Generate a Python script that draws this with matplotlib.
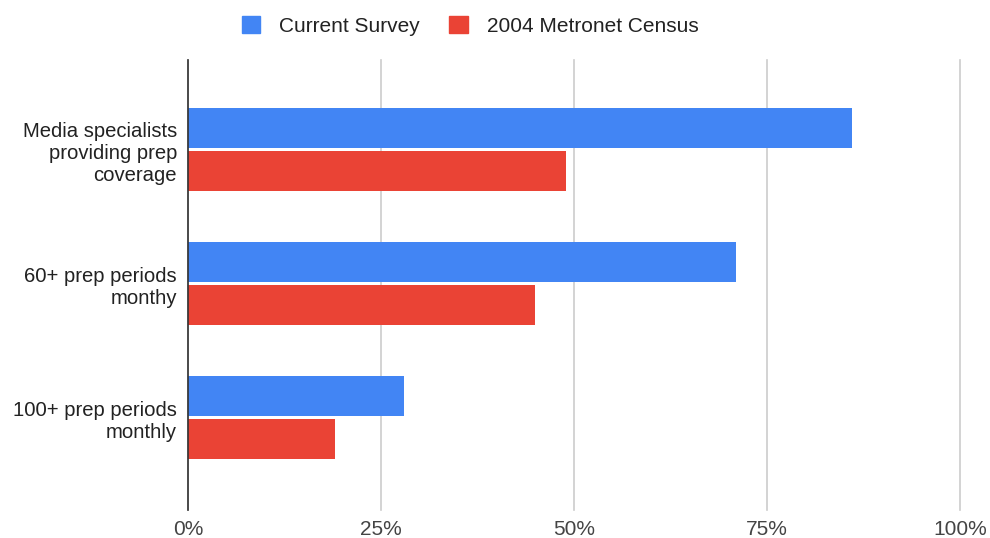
import matplotlib.pyplot as plt
import numpy as np
from matplotlib.patches import Patch
from matplotlib.ticker import FuncFormatter

plt.rcParams['font.family'] = ['Liberation Sans', 'DejaVu Sans']

categories = ["Media specialists\nproviding prep\ncoverage",
              "60+ prep periods\nmonthy",
              "100+ prep periods\nmonthly"]
current_survey = [86, 71, 28]
metronet_2004 = [49, 45, 19]
series_names = ["Current Survey", "2004 Metronet Census"]
colors = ["#4285F4", "#EA4335"]

fig = plt.figure(figsize=(9.9, 5.38), dpi=100)
ax = fig.add_axes([188 / 990, 1 - 510 / 538, 772 / 990, 450 / 538])

y = np.arange(len(categories))
h = 0.2985
off = 0.1605
ax.barh(y - off, current_survey, height=h, color=colors[0], zorder=3)
ax.barh(y + off, metronet_2004, height=h, color=colors[1], zorder=3)

ax.set_xlim(0, 100)
ax.set_ylim(2.69, -0.668)
ax.set_xticks([0, 25, 50, 75, 100])
ax.xaxis.set_major_formatter(FuncFormatter(lambda v, p: f"{v:.0f}%"))
ax.set_yticks(y)
ax.set_yticklabels(categories, fontsize=14.6, color="#222222", linespacing=1.2)
ax.tick_params(axis='x', labelsize=15, colors="#444444", length=0, pad=7)
ax.tick_params(axis='y', length=0, pad=8)
ax.xaxis.grid(True, color="#cccccc", linewidth=1.2, zorder=0)
for gl in ax.get_xgridlines():
    gl.set_clip_on(False)
ax.set_axisbelow(True)
for s in ["top", "right", "bottom"]:
    ax.spines[s].set_visible(False)
ax.spines["left"].set_color("#333333")
ax.spines["left"].set_linewidth(1.2)
ax.spines["left"].set_zorder(4)

handles = [Patch(facecolor=c, edgecolor=c) for c in colors]
fig.legend(handles, series_names, loc="center", bbox_to_anchor=(470 / 990, 1 - 26 / 538),
           ncol=2, frameon=False, fontsize=15, handlelength=0.9, handleheight=0.9,
           columnspacing=1.4, handletextpad=0.9, labelcolor="#222222")

fig.savefig("out.png", dpi=100)
